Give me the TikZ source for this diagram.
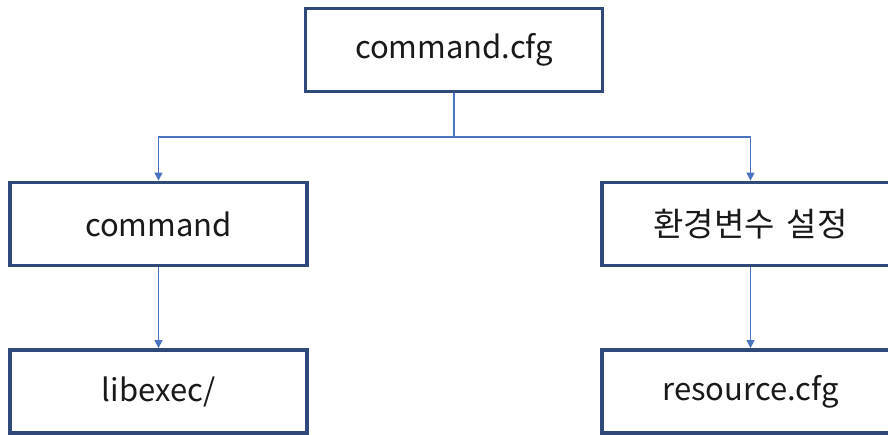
\documentclass[tikz,border=0pt]{standalone}
\usepackage{fontspec}
\setmainfont{Noto Sans CJK KR}
\usetikzlibrary{arrows.meta}
\definecolor{boxblue}{HTML}{2F4A7A}
\definecolor{lineblue}{HTML}{4A74C0}
\begin{document}
\begin{tikzpicture}[x=1pt,y=-1pt,
  box/.style={draw=boxblue,line width=3.8pt,minimum width=297pt,minimum height=83pt,inner sep=0pt,font=\fontsize{31}{36}\selectfont,text=black!90},
  conn/.style={draw=lineblue,line width=1.3pt,-{Triangle[width=8pt,length=8pt]}}]
\useasboundingbox (0,0) rectangle (888,435);
\clip (0,0) rectangle (888,435);
\node[box] (top) at (454,50) {command.cfg};
\node[box] (cmd) at (158.5,224) {command};
\node[box] (env) at (750.5,224) {\fontsize{33}{38}\selectfont 환경변수\hspace{12pt}설정};
\node[box] (lib) at (158.5,391.5) {libexec/};
\node[box] (res) at (750.5,391.5) {resource.cfg};
\coordinate (split) at (454,137);
\draw[conn] (top.south) -- (split) -| (cmd.north);
\draw[conn] (split) -| (env.north);
\draw[conn] (cmd.south) -- (lib.north);
\draw[conn] (env.south) -- (res.north);
\end{tikzpicture}
\end{document}
